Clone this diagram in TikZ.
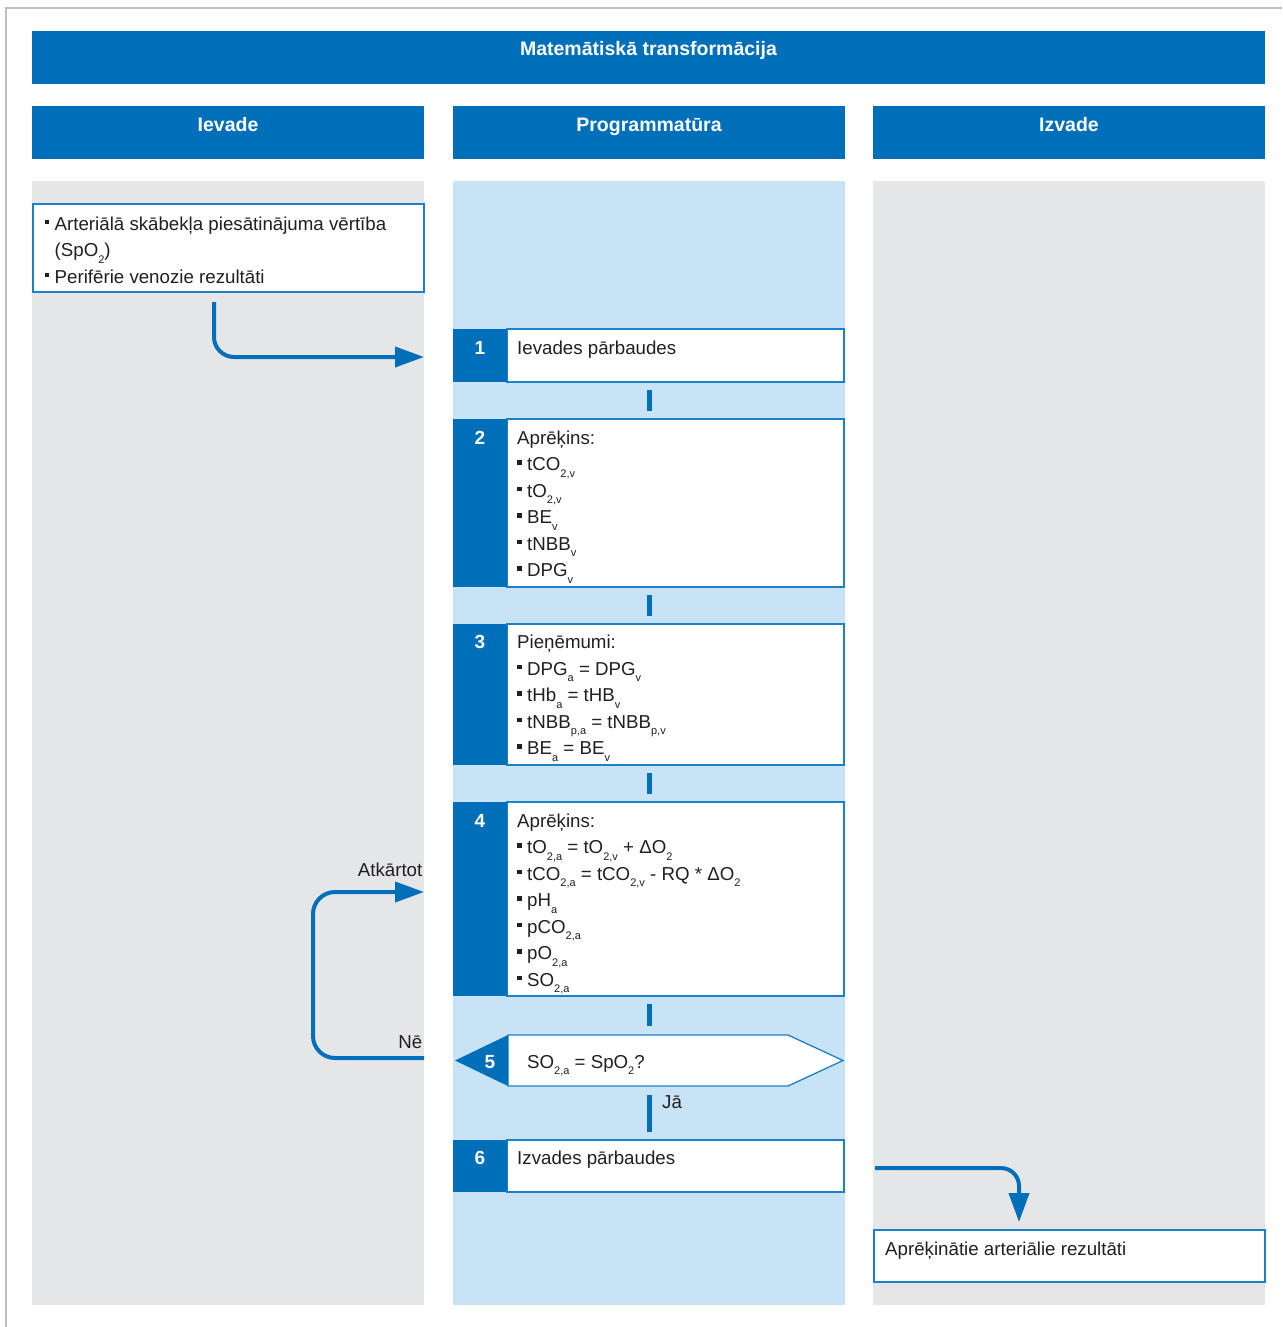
\documentclass[tikz,border=0pt]{standalone}
\usepackage{fontspec}
\setmainfont{Liberation Sans}
\usetikzlibrary{arrows.meta,calc}
\definecolor{rblue}{RGB}{0,111,185}
\definecolor{bblue}{RGB}{30,128,200}
\definecolor{lblue}{RGB}{199,227,245}
\definecolor{lgray}{RGB}{229,230,232}
\definecolor{txt}{RGB}{35,31,32}
\definecolor{framec}{RGB}{190,190,192}
\newcommand{\sbs}[1]{\raisebox{-6.5pt}{\fontsize{11}{11}\selectfont #1}}
\newcommand{\bul}{\rule[6pt]{4.5pt}{4.5pt}\hspace{5.5pt}}
\newcommand{\fst}{\rule{0pt}{20pt}}
\tikzset{
  box/.style={anchor=north west, inner sep=0pt, outer sep=0pt},
  hdr/.style={box, fill=rblue},
  colbg/.style={box},
  body/.style={box, draw=bblue, fill=white, line width=1.3pt},
  numblk/.style={box, fill=rblue},
  hdrtxt/.style={anchor=base, inner sep=0pt, text=white, font=\fontsize{19.5}{23}\selectfont\bfseries},
  numtxt/.style={anchor=base, inner sep=0pt, text=white, font=\fontsize{19}{23}\selectfont\bfseries},
  btxt/.style={anchor=north west, inner sep=0pt, align=left, text=txt, font=\fontsize{18.7}{26.5}\selectfont},
  ltxt/.style={inner sep=0pt, text=txt, font=\fontsize{18.7}{26.5}\selectfont},
  bar/.style={draw=rblue, line width=5pt},
  conn/.style={draw=rblue, line width=4pt, -{Triangle[length=29pt,width=20pt]}}
}
\begin{document}
\begin{tikzpicture}[x=1pt,y=-1pt]
\useasboundingbox (0,0) rectangle (1282,1327);
% frame
\draw[framec, line width=1.5pt] (6,1327) -- (6,8) -- (1282,8);
% title
\node[hdr, minimum width=1233pt, minimum height=53pt] (title) at (32,31) {};
\node[hdrtxt] (titletxt) at (648.5,55.7) {Matemātiskā transformācija};
% column headers
\node[hdr, minimum width=392pt, minimum height=53pt] (h1) at (32,106) {};
\node[hdr, minimum width=392pt, minimum height=53pt] (h2) at (453,106) {};
\node[hdr, minimum width=392pt, minimum height=53pt] (h3) at (873,106) {};
\node[hdrtxt] (h1t) at (228,131.5) {Ievade};
\node[hdrtxt] (h2t) at (649,131.5) {Programmatūra};
\node[hdrtxt] (h3t) at (1069,131.5) {Izvade};
% column backgrounds
\node[colbg, fill=lgray, minimum width=392pt, minimum height=1124pt] (c1) at (32,181) {};
\node[colbg, fill=lblue, minimum width=392pt, minimum height=1124pt] (c2) at (453,181) {};
\node[colbg, fill=lgray, minimum width=392pt, minimum height=1124pt] (c3) at (873,181) {};
% input box
\node[body, minimum width=391pt, minimum height=88pt] (inp) at (33,204) {};
\node[btxt] (inpt) at (44.5,210) {\fst\bul Arteriālā skābekļa piesātinājuma vērtība\\\hspace{10pt}(SpO\sbs{2})\\\bul Perifērie venozie rezultāti};
% step 1
\node[body, minimum width=337pt, minimum height=53pt] (s1) at (507,329) {};
\node[numblk, minimum width=54pt, minimum height=53pt] (s1n) at (453,329) {};
\node[numtxt] (s1nt) at (480,354) {1};
\node[btxt] (s1t) at (517,334) {\fst Ievades pārbaudes};
% step 2
\node[body, minimum width=337pt, minimum height=168pt] (s2) at (507,419) {};
\node[numblk, minimum width=54pt, minimum height=168pt] (s2n) at (453,419) {};
\node[numtxt] (s2nt) at (480,444) {2};
\node[btxt] (s2t) at (517,424) {\fst Aprēķins:\\\bul tCO\sbs{2,v}\\\bul tO\sbs{2,v}\\\bul BE\sbs{v}\\\bul tNBB\sbs{v}\\\bul DPG\sbs{v}};
% step 3
\node[body, minimum width=337pt, minimum height=141pt] (s3) at (507,624) {};
\node[numblk, minimum width=54pt, minimum height=141pt] (s3n) at (453,624) {};
\node[numtxt] (s3nt) at (480,648.5) {3};
\node[btxt] (s3t) at (517,628.5) {\fst Pieņēmumi:\\\bul DPG\sbs{a} = DPG\sbs{v}\\\bul tHb\sbs{a} = tHB\sbs{v}\\\bul tNBB\sbs{p,a} = tNBB\sbs{p,v}\\\bul BE\sbs{a} = BE\sbs{v}};
% step 4
\node[body, minimum width=337pt, minimum height=194pt] (s4) at (507,802) {};
\node[numblk, minimum width=54pt, minimum height=194pt] (s4n) at (453,802) {};
\node[numtxt] (s4nt) at (480,827) {4};
\node[btxt] (s4t) at (517,807) {\fst Aprēķins:\\\bul tO\sbs{2,a} = tO\sbs{2,v} + ΔO\sbs{2}\\\bul tCO\sbs{2,a} = tCO\sbs{2,v} - RQ * ΔO\sbs{2}\\\bul pH\sbs{a}\\\bul pCO\sbs{2,a}\\\bul pO\sbs{2,a}\\\bul SO\sbs{2,a}};
% step 5 (decision)
\node[box, minimum width=280pt, minimum height=51pt] (s5) at (508,1035) {};
\draw[bblue, fill=white, line width=1.3pt] (s5.north west) -- (788,1035) -- (843,1060.5) -- (788,1086) -- (s5.south west) -- cycle;
\fill[rblue] (455,1060.5) -- (s5.north west) -- (s5.south west) -- cycle;
\node[numtxt] (s5nt) at (490,1068) {5};
\node[ltxt, anchor=base west] (s5t) at (527,1068) {SO\sbs{2,a} = SpO\sbs{2}?};
% step 6
\node[body, minimum width=337pt, minimum height=52pt] (s6) at (507,1140) {};
\node[numblk, minimum width=54pt, minimum height=52pt] (s6n) at (453,1140) {};
\node[numtxt] (s6nt) at (480,1164) {6};
\node[btxt] (s6t) at (517,1144) {\fst Izvades pārbaudes};
% output box
\node[body, minimum width=391pt, minimum height=52pt] (outb) at (874,1230) {};
\node[btxt] (outt) at (885,1235) {\fst Aprēķinātie arteriālie rezultāti};
% bars between steps
\draw[bar] ([yshift=-8pt]s1.south -| c2.north) -- ([yshift=8pt]s2.north -| c2.north);
\draw[bar] ([yshift=-8pt]s2.south -| c2.north) -- ([yshift=8pt]s3.north -| c2.north);
\draw[bar] ([yshift=-8pt]s3.south -| c2.north) -- ([yshift=8pt]s4.north -| c2.north);
\draw[bar] ([yshift=-8pt]s4.south -| c2.north) -- ([yshift=9pt]s5.north -| c2.north);
\draw[bar] ([yshift=-9pt]s5.south -| c2.north) -- ([yshift=8pt]s6.north -| c2.north);
\node[ltxt, anchor=base west] (ja) at (662,1108.5) {Jā};
% arrows
\coordinate (a1s) at (214,302);
\coordinate (a1e) at (424,357);
\draw[conn, rounded corners=20pt] (a1s) |- (a1e);
\coordinate (nos) at (424,1058);
\coordinate (loopl) at (313,1058);
\coordinate (repe) at (424,892);
\draw[conn, rounded corners=22pt] (nos) -- (loopl) |- (repe);
\node[ltxt, anchor=base east] (ne) at (422.5,1048) {Nē};
\node[ltxt, anchor=base east] (atk) at (422.5,876.5) {Atkārtot};
\coordinate (os) at (875,1168);
\coordinate (oe) at (1019,1222);
\draw[conn, rounded corners=18pt] (os) -| (oe);
\end{tikzpicture}
\end{document}
